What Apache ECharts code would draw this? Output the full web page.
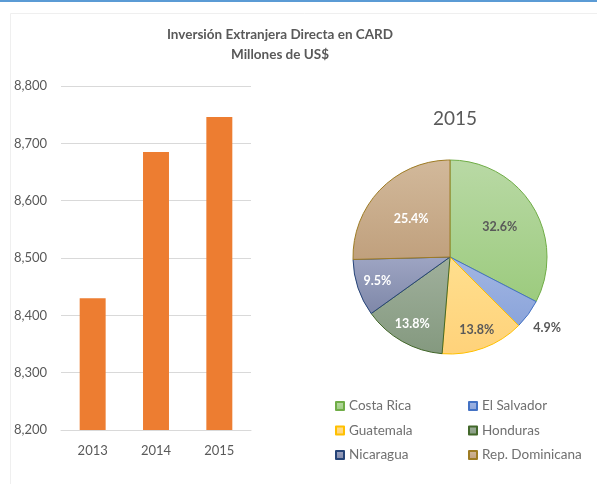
<!DOCTYPE html>
<html><head><meta charset="utf-8">
<script src="https://cdn.jsdelivr.net/npm/echarts@6/dist/echarts.min.js"></script>
<style>html,body{margin:0;padding:0;background:#fff}#c{width:597px;height:484px}</style>
</head><body><div id="c"></div>
<script>
const years = ['2013', '2014', '2015'];
const ied = [8430, 8685, 8746];
const yTicks = [8200, 8300, 8400, 8500, 8600, 8700, 8800];
const countries = ['Costa Rica', 'El Salvador', 'Guatemala', 'Honduras', 'Nicaragua', 'Rep. Dominicana'];
const shares2015 = [32.6, 4.9, 13.8, 13.8, 9.5, 25.4];

const fills = [['#b9d9a5','#9ccb7e'],['#a3b6e3','#8aa4da'],['#ffdf8e','#ffd27a'],['#a0b09c','#84997f'],['#9ea5c3','#7e87a8'],['#d2b99b','#c0a07d']];
const borders = ['#70ad47','#4472c4','#ffc000','#43682b','#264478','#9e7c24'];
const labelColors = ['#595959','#595959','#595959','#ffffff','#ffffff','#ffffff'];
// label distance from centre as fraction of radius (layout style)
const labelRad = [0.6, 1.24, 0.8, 0.79, 0.79, 0.56];
const grad = c => new echarts.graphic.LinearGradient(0,0,0,1,[{offset:0,color:c[0]},{offset:1,color:c[1]}]);

const CX = 450, CY = 257, R = 97;
const total = shares2015.reduce((a,b)=>a+b,0);
const midAngles = [];
{ let acc = 0; shares2015.forEach(v=>{ const mid = acc + v/2; midAngles.push(Math.PI/2 - mid/total*2*Math.PI); acc += v; }); }

const pieData = countries.map((n,i)=>({
  name:n, value:shares2015[i],
  itemStyle:{color:grad(fills[i]), borderColor:borders[i], borderWidth:1},
  label:{color:labelColors[i]},
  labelLine:{show:false}
}));

const chart = echarts.init(document.getElementById('c'), null, {renderer:'canvas'});
const F = 'Lato, "Liberation Sans", sans-serif';
const legendText = {color:'#707070', fontSize:13.5, fontFamily:F};
chart.setOption({
  animation:false,
  backgroundColor:'#fff',
  textStyle:{fontFamily:F},
  graphic:[
    {type:'rect', shape:{x:0,y:0,width:597,height:2}, style:{fill:'#5b9bd5'}},
    {type:'rect', shape:{x:10.5,y:13.5,width:600,height:480}, style:{fill:'none',stroke:'#efefef',lineWidth:1}}
  ],
  title:[
    {text:'Inversión Extranjera Directa en CARD\nMillones de US$', left:275, top:20, textAlign:'center',
     textStyle:{fontFamily:F, fontSize:13.5, fontWeight:'bold', color:'#595959', lineHeight:20}},
    {text:'2015', left:450, top:104, textAlign:'center', textStyle:{fontFamily:F, fontSize:19, fontWeight:'normal', color:'#595959'}}
  ],
  grid:{left:61, right:346, top:86, bottom:54},
  xAxis:{type:'category', data:years, axisTick:{show:false},
    axisLine:{lineStyle:{color:'#d9d9d9'}},
    axisLabel:{color:'#595959', fontSize:13, margin:14, fontFamily:F}},
  yAxis:{type:'value', min:yTicks[0], max:yTicks[yTicks.length-1], interval:100,
    axisLine:{show:false}, axisTick:{show:false},
    splitLine:{lineStyle:{color:'#d9d9d9'}},
    axisLabel:{color:'#595959', fontSize:13, margin:14, fontFamily:F,
      formatter:v=>v.toLocaleString('en-US')}},
  legend:[
    {orient:'vertical', left:335, top:399, padding:0, itemGap:10.5, itemWidth:8, itemHeight:8, icon:'rect',
     data:[countries[0],countries[2],countries[4]], textStyle:legendText},
    {orient:'vertical', left:468, top:399, padding:0, itemGap:10.5, itemWidth:8, itemHeight:8, icon:'rect',
     data:[countries[1],countries[3],countries[5]], textStyle:legendText}
  ],
  series:[
    {type:'bar', data:ied, barWidth:'41%', itemStyle:{color:'#ed7d31'}},
    {type:'pie', center:[CX,CY], radius:R, startAngle:90, clockwise:true,
     label:{show:true, position:'inside', formatter:p=>p.value.toFixed(1)+'%', fontSize:12.5, fontWeight:'bold', fontFamily:F, overflow:'none'},
     labelLayout:p=>{
       const i = p.dataIndex, a = midAngles[i], r = R*labelRad[i];
       return {x: CX + r*Math.cos(a), y: CY - r*Math.sin(a), align:'center', verticalAlign:'middle'};
     },
     data:pieData}
  ]
});
</script></body></html>
